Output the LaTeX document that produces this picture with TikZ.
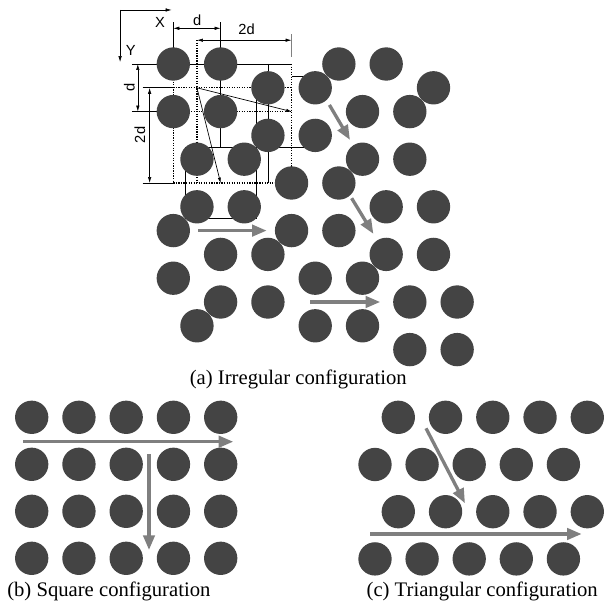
\documentclass[tikz,border=0pt]{standalone}
\usepackage{fontspec}
\setmainfont{Liberation Serif}
\newfontfamily\labelfont{Liberation Sans}
\usetikzlibrary{arrows.meta}
\definecolor{fibre}{HTML}{444444}
\definecolor{flow}{HTML}{7F7F7F}

\begin{document}
\begin{tikzpicture}[
    x=0.75pt, y=-0.75pt,
    fiber/.style={circle, fill=fibre, minimum size=25pt, inner sep=0pt},
    flowarrow/.style={draw=flow, line width=2.5pt, -{Triangle[length=11pt,width=8.5pt]}},
    dimline/.style={line width=0.45pt, {Latex[length=4.5pt,width=2.6pt]}-{Latex[length=4.5pt,width=2.6pt]}},
    axisline/.style={line width=0.45pt, -{Latex[length=4.5pt,width=2.6pt]}},
    thinarrow/.style={line width=0.5pt, -{Latex[length=4pt,width=2.4pt]}},
    dimlabel/.style={font=\labelfont\fontsize{11}{11}\selectfont, inner sep=0pt},
    caption/.style={font=\fontsize{15.5}{15.5}\selectfont, inner sep=0pt, anchor=base},
    gridline/.style={line width=0.5pt},
    dotline/.style={line width=0.9pt, densely dotted}
]
\useasboundingbox (0,0) rectangle (603,610);

% (a) Irregular configuration, grid of half spacings
\begin{scope}[shift={(173.3,64)}, x=17.74pt, y=-17.85pt]

% Axes
\coordinate (corner) at (-2.25,-2.27);
\coordinate (xend) at (-0.07,-2.27);
\coordinate (yend) at (-2.25,-0.08);
\draw[axisline] (corner) -- (xend);
\draw[axisline] (corner) -- (yend);
\node[dimlabel] (xlab) at (-0.56,-1.74) {X};
\node[dimlabel] (ylab) at (-1.8,-0.56) {Y};

% Cell lines
\draw[gridline] (-1.75,0) -- (5,0);
\draw[gridline] (-1.75,2) -- (0,2);
\draw[gridline] (-1.3,1) -- (0,1);
\draw[gridline] (-1.3,5) -- (0,5);
\draw[gridline] (0,-1.75) -- (0,0);
\draw[gridline] (2,-1.75) -- (2,0);
\draw[gridline, draw=gray] (5,-1.25) -- (5,-0.3);
\draw[gridline] (4,0) -- (4,5);
\draw[gridline] (2,0) -- (2,3.5);
\draw[gridline] (3.5,1) -- (3.5,6.5);
\draw[gridline] (0.5,3.5) -- (6.2,3.5);
\draw[gridline] (5,0.5) -- (6.2,0.5);
\draw[gridline] (0.5,3.5) -- (0.5,6.5) -- (3.5,6.5);
\draw[dotline] (0,1) -- (5,1);
\draw[dotline] (0,2) -- (5,2);
\draw[dotline] (0,5) -- (5,5);
\draw[dotline] (0,0) -- (0,5);
\draw[dotline] (1,-1) -- (1,5);
\draw[dotline] (5,0) -- (5,5);

% Dimensions
\draw[dimline] (0,-1.5) -- (2,-1.5);
\draw[dimline] (1,-1) -- (5,-1);
\draw[dimline] (-1.5,0) -- (-1.5,2);
\draw[dimline] (-1,1) -- (-1,5);
\node[dimlabel] (dx) at (1.01,-1.82) {d};
\node[dimlabel] (ddx) at (3.1,-1.46) {2d};
\node[dimlabel, rotate=90] (dy) at (-1.86,0.98) {d};
\node[dimlabel, rotate=90] (ddy) at (-1.41,2.98) {2d};

% Neighbour vectors
\coordinate (o) at (1,1);
\coordinate (p) at (5,2);
\coordinate (q) at (2,5);
\draw[thinarrow] (o) -- (p);
\draw[thinarrow] (o) -- (q);

% Fibres
\foreach \i/\j in {0/0,2/0,7/0,9/0, 4/1,6/1,11/1, 0/2,2/2,8/2,10/2,
    4/3,6/3, 1/4,3/4,8/4,10/4, 5/5,7/5, 1/6,3/6,9/6,11/6,
    0/7,5/7,7/7, 2/8,4/8,9/8,11/8, 0/9,6/9,8/9,
    2/10,4/10,10/10,12/10, 1/11,6/11,8/11, 10/12,12/12}
  \node[fiber] (a-\i-\j) at (\i,\j) {};

% Flow
\coordinate (f1s) at (1.05,7);   \coordinate (f1e) at (3.95,7);
\coordinate (f2s) at (5.8,10);   \coordinate (f2e) at (8.75,10);
\coordinate (f3s) at (6.6,1.72); \coordinate (f3e) at (7.47,3.19);
\coordinate (f4s) at (7.54,5.64); \coordinate (f4e) at (8.46,7.14);
\draw[flowarrow] (f1s) -- (f1e);
\draw[flowarrow] (f2s) -- (f2e);
\draw[flowarrow] (f3s) -- (f3e);
\draw[flowarrow] (f4s) -- (f4e);
\end{scope}
\node[caption] (capa) at (298.3,384) {(a) Irregular configuration};

% (b) Square configuration
\foreach \k in {0,...,4}
  \foreach \m in {0,...,3}
    \node[fiber] (b-\k-\m) at ({31.7+47.25*\k},{417.3+47*\m}) {};
\coordinate (bhs) at (23.3,441.7);
\coordinate (bhe) at (233.3,441.7);
\coordinate (bvs) at (149,454);
\coordinate (bve) at (149,550);
\draw[flowarrow] (bhs) -- (bhe);
\draw[flowarrow] (bvs) -- (bve);
\node[caption, anchor=base west] (capb) at (7,596) {(b) Square configuration};

% (c) Triangular configuration
\foreach \k in {0,...,4}
  \foreach \m in {0,2}
    \node[fiber] (c-\k-\m) at ({398.3+47.25*\k},{417.3+47.2*\m}) {};
\foreach \k in {0,...,4}
  \foreach \m in {1,3}
    \node[fiber] (c-\k-\m) at ({375+47.1*\k},{417.3+47.2*\m}) {};
\coordinate (cds) at (426,428.3);
\coordinate (cde) at (465,503.3);
\coordinate (chs) at (370,534);
\coordinate (che) at (581.7,534);
\draw[flowarrow] (cds) -- (cde);
\draw[flowarrow] (chs) -- (che);
\node[caption, anchor=base east] (capc) at (598,596) {(c) Triangular configuration};

\end{tikzpicture}
\end{document}
